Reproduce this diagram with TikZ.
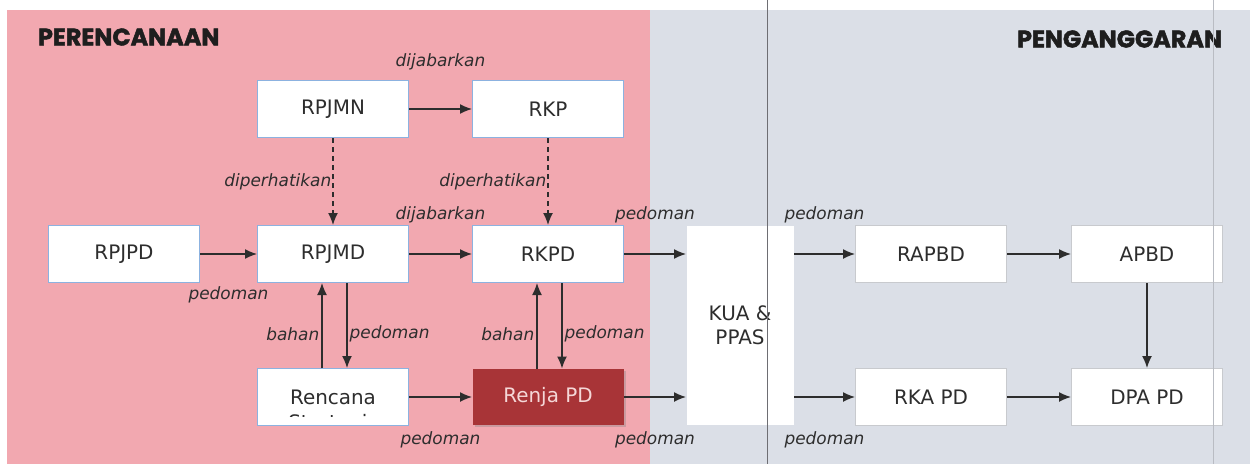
\documentclass[tikz,border=0pt]{standalone}
\usepackage{fontspec}
\setmainfont{DejaVu Sans}
\newfontfamily\titlefont{Poppins}[BoldFeatures={FakeBold=2}]
\usepackage{tikz}
\usetikzlibrary{calc,arrows.meta,shadows}
\definecolor{pinkbg}{RGB}{242,168,176}
\definecolor{greybg}{RGB}{219,223,231}
\definecolor{boxblue}{RGB}{140,178,224}
\definecolor{boxgrey}{RGB}{200,202,206}
\definecolor{renjared}{RGB}{168,52,55}
\definecolor{txt}{RGB}{45,45,45}

\begin{document}
\begin{tikzpicture}[>={Latex[length=12bp,width=10bp]}, line width=1.4bp, draw=txt,
	box/.style={draw=boxblue, line width=1bp, fill=white, minimum width=151bp, minimum height=57bp, font=\fontsize{20}{24}\selectfont, text=txt},
	gbox/.style={box, draw=boxgrey},
	lbl/.style={font=\fontsize{17}{20}\selectfont\itshape, text=txt, inner sep=2bp}]
	\useasboundingbox (0bp,0bp) rectangle (1255bp,-464bp);
	\fill [pinkbg] (7bp,-10bp) rectangle (650bp,-464bp);
	\fill [greybg] (650bp,-10bp) rectangle (1250bp,-464bp);

	\node (perenc) at (34bp,-37bp)   [anchor=west, text={rgb,255:red,30;green,30;blue,30}, font=\titlefont\bfseries\fontsize{24}{28}\selectfont] {PERENCANAAN};
	\node (pengang) at (1226bp,-39bp) [anchor=east, text={rgb,255:red,30;green,30;blue,30}, font=\titlefont\bfseries\fontsize{24}{28}\selectfont] {PENGANGGARAN};

	\node (RPJMN)   at (333bp,-109bp)  [box]  {RPJMN};
	\node (RKP)     at (548bp,-109bp)  [box]  {RKP};
	\node (RPJPD)   at (124bp,-254bp)  [box]  {RPJPD};
	\node (RPJMD)   at (333bp,-254bp)  [box]  {RPJMD};
	\node (RKPD)    at (548bp,-254bp)  [box]  {RKPD};
	\node (KUA)     at (740bp,-325bp)  [box, draw=none, minimum width=107bp, minimum height=199bp, align=center] {KUA \&\\PPAS};
	\node (RAPBD)   at (931bp,-254bp)  [gbox] {RAPBD};
	\node (APBD)    at (1147bp,-254bp) [gbox] {APBD};
	\node (renstra) at (333bp,-397bp)  [box]  {Rencana};
	\node (renja)   at (548bp,-397bp)  [box, draw=none, fill=renjared, minimum height=56bp, drop shadow={shadow xshift=2bp, shadow yshift=-2bp, opacity=0.35}, text={rgb,255:red,245;green,215;blue,215}] {Renja PD};
	\node (RKAPD)   at (931bp,-397bp)  [gbox] {RKA PD};
	\node (DPAPD)   at (1147bp,-397bp) [gbox] {DPA PD};
	\begin{scope}
		\clip ($(renstra.north west)+(1bp,-1bp)$) rectangle ($(renstra.south east)+(-1bp,10bp)$);
		\node (strategis) at (333bp,-429bp) [anchor=base, text=txt, font=\fontsize{20}{24}\selectfont] {Strategis};
	\end{scope}

	\draw [->] (RPJMN) to node[lbl, above=36bp] {dijabarkan} (RKP);
	\draw [->, dash pattern=on 5bp off 4bp] (RPJMN) to node[lbl, left, inner sep=1bp] {diperhatikan} (RPJMD);
	\draw [->, dash pattern=on 5bp off 4bp] (RKP) to node[lbl, left, inner sep=1bp] {diperhatikan} (RKPD);
	\draw [->] (RPJPD) to node[lbl, below=30bp] {pedoman} (RPJMD);
	\draw [->] (RPJMD) to node[lbl, above=28bp] {dijabarkan} (RKPD);
	\draw [->] (RKPD.east) to node[lbl, above=28bp] {pedoman} (RKPD -| KUA.west);
	\draw [->] (RAPBD -| KUA.east) to node[lbl, above=28bp] {pedoman} (RAPBD.west);
	\draw [->] (RAPBD) to (APBD);
	\draw [->] (APBD) to (DPAPD);
	\draw [->] ([xshift=-11bp]renstra.north) to node[lbl, left, pos=0.4] {bahan} ([xshift=-11bp]RPJMD.south);
	\draw [->] ([xshift=14bp]RPJMD.south) to node[lbl, right, pos=0.6] {pedoman} ([xshift=14bp]renstra.north);
	\draw [->] ([xshift=-11bp]renja.north) to node[lbl, left, pos=0.4] {bahan} ([xshift=-11bp]RKPD.south);
	\draw [->] ([xshift=14bp]RKPD.south) to node[lbl, right, pos=0.6] {pedoman} ([xshift=14bp]renja.north);
	\draw [->] (renstra) to node[lbl, below=32bp] {pedoman} (renja);
	\draw [->] (renja.east) to node[lbl, below=32bp] {pedoman} (renja -| KUA.west);
	\draw [->] (RKAPD -| KUA.east) to node[lbl, below=32bp] {pedoman} (RKAPD.west);
	\draw [->] (RKAPD) to (DPAPD);

	\draw [line width=0.8bp, draw={rgb,255:red,110;green,110;blue,115}] (767bp,0bp) -- (767bp,-464bp);
	\draw [line width=0.8bp, draw={rgb,255:red,185;green,188;blue,195}] (1213bp,0bp) -- (1213bp,-464bp);
\end{tikzpicture}
\end{document}
